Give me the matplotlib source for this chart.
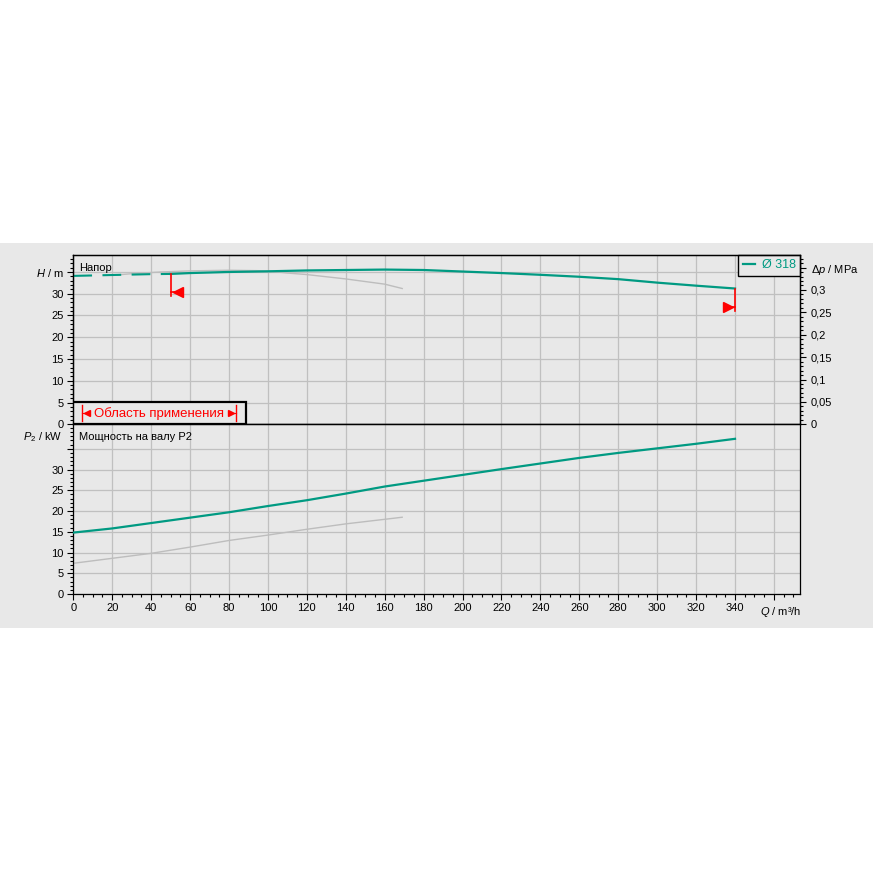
import matplotlib
matplotlib.use("Agg")
import matplotlib.pyplot as plt
from matplotlib.patches import Rectangle
from matplotlib.ticker import MultipleLocator, FixedLocator
import numpy as np

plt.rcParams["font.family"] = ["Liberation Sans", "DejaVu Sans"]
plt.rcParams["mathtext.fontset"] = "custom"
plt.rcParams["mathtext.rm"] = "Liberation Sans"
plt.rcParams["mathtext.it"] = "Liberation Sans:italic"

# head curve, impeller 318 mm
q_head = [0, 20, 40, 50, 60, 80, 100, 120, 140, 160, 180, 200, 220, 240, 260, 280, 300, 320, 340]
h_head = [34.1, 34.3, 34.5, 34.55, 34.75, 35.0, 35.15, 35.35, 35.45, 35.55, 35.45, 35.1,
          34.75, 34.35, 33.9, 33.35, 32.55, 31.85, 31.2]
# grey reference head curve
q_head_ref = [22, 30, 45, 60, 80, 95, 105, 110, 120, 130, 140, 150, 160, 169]
h_head_ref = [34.3, 34.6, 35.0, 35.25, 35.4, 35.3, 35.0, 34.75, 34.4, 33.9, 33.4, 32.8, 32.2, 31.2]

# shaft power P2
q_power = [0, 20, 40, 60, 80, 100, 120, 140, 160, 180, 200, 220, 240, 260, 280, 300, 320, 340]
p_power = [14.8, 15.8, 17.1, 18.4, 19.7, 21.2, 22.6, 24.2, 25.9, 27.3, 28.7, 30.1,
           31.45, 32.8, 34.0, 35.1, 36.2, 37.4]
q_power_ref = [0, 20, 40, 60, 80, 100, 120, 140, 160, 169]
p_power_ref = [7.4, 8.6, 9.8, 11.3, 12.9, 14.2, 15.6, 16.9, 18.0, 18.5]

q_min, q_max = 50, 340
x_ticks = list(range(0, 361, 20))
x_labels = [str(v) for v in range(0, 341, 20)] + [""]
head_ticks = [0, 5, 10, 15, 20, 25, 30, 35]
head_labels = ["0", "5", "10", "15", "20", "25", "30", "$H$ / m"]
power_ticks = [0, 5, 10, 15, 20, 25, 30, 35]
power_labels = ["0", "5", "10", "15", "20", "25", "30", ""]
dp_ticks = [0, 0.05, 0.1, 0.15, 0.2, 0.25, 0.3, 0.35]
dp_labels = ["0", "0,05", "0,1", "0,15", "0,2", "0,25", "0,3", r"$\Delta p$ / MPa"]
mpa_per_m = 0.3 / 30.87

green = "#009a82"
grey_line = "#bdbdbd"
bg = "#e8e8e8"
grid_c = "#c0c0c0"

fig = plt.figure(figsize=(8.73, 8.73), dpi=100)
fig.patches.append(Rectangle((0, 0.2806), 1, 0.441, transform=fig.transFigure,
                             facecolor=bg, edgecolor="none", zorder=-10))

ax1 = fig.add_axes([0.08396, 0.51398, 0.83242, 0.19393])
ax2 = fig.add_axes([0.08396, 0.31959, 0.83242, 0.19439])

for ax in (ax1, ax2):
    ax.set_facecolor(bg)
    ax.set_xlim(0, 373.4)
    ax.xaxis.set_major_locator(FixedLocator(x_ticks))
    ax.xaxis.set_minor_locator(MultipleLocator(5))
    ax.grid(True, which="major", color=grid_c, linewidth=0.9)
    ax.set_axisbelow(True)
    for s in ax.spines.values():
        s.set_color("black")
        s.set_linewidth(0.9)
    ax.tick_params(which="major", direction="out", length=4.3, width=0.8,
                   labelsize=8, pad=2.5, colors="black")
    ax.tick_params(which="minor", direction="out", length=2.2, width=0.8)
    ax.yaxis.set_minor_locator(MultipleLocator(1))

# head panel
ax1.set_ylim(0, 38.9)
ax1.set_yticks(head_ticks)
ax1.set_yticklabels(head_labels)
ax1.tick_params(axis="x", which="both", bottom=False, labelbottom=False)

mask = np.array(q_head) <= q_min
q_arr = np.array(q_head)
h_arr = np.array(h_head)
ax1.plot(q_head_ref, h_head_ref, color=grey_line, lw=1.0, zorder=2)
ax1.plot(q_arr[mask], h_arr[mask], color=green, lw=1.5, ls=(0, (9, 5)), zorder=3)
ax1.plot(q_arr[~mask | (q_arr == q_min)], h_arr[~mask | (q_arr == q_min)],
         color=green, lw=1.6, zorder=3, label="\u00d8 318")

# operating range markers
h_lo = np.interp(q_min, q_head, h_head)
h_hi = np.interp(q_max, q_head, h_head)
ax1.plot([q_min, q_min], [h_lo, h_lo - 5.0], color="red", lw=1.2, zorder=4)
ax1.plot([q_min, q_min + 3.5], [h_lo - 4.2, h_lo - 4.2], color="red", lw=1.2, zorder=4)
ax1.plot(q_min + 3.6, h_lo - 4.2, marker="<", ms=7, color="red", mec="red", zorder=4)
ax1.plot([q_max, q_max], [h_hi, h_hi - 5.1], color="red", lw=1.2, zorder=4)
ax1.plot([q_max - 3.5, q_max], [h_hi - 4.2, h_hi - 4.2], color="red", lw=1.2, zorder=4)
ax1.plot(q_max - 3.8, h_hi - 4.2, marker=">", ms=7, color="red", mec="red", zorder=4)

ax1.text(0.0078, 0.923, "Напор", transform=ax1.transAxes, fontsize=8,
         ha="left", va="center")

leg = ax1.legend(loc="upper right", borderaxespad=0, fontsize=9, handlelength=1.0,
                 handletextpad=0.5, borderpad=0.35, fancybox=False,
                 edgecolor="black", facecolor=bg, framealpha=1)
leg.get_frame().set_linewidth(1.0)
for t in leg.get_texts():
    t.set_color(green)
leg.set_zorder(6)

# application range box
ax1.add_patch(Rectangle((0, 0), 0.2377, 0.13, transform=ax1.transAxes,
                        facecolor=bg, edgecolor="black", lw=1.6, zorder=5))
ax1.text(0.118, 0.065, "Область применения", transform=ax1.transAxes,
         fontsize=9.5, color="red", ha="center", va="center", zorder=6)
ax1.plot([0.0124, 0.0124], [0.02, 0.114], transform=ax1.transAxes, color="red", lw=1.0, zorder=6)
ax1.plot([0.0124, 0.02], [0.065, 0.065], transform=ax1.transAxes, color="red", lw=0.8, zorder=6)
ax1.plot(0.0195, 0.065, transform=ax1.transAxes, marker="<", ms=4, color="red", zorder=6)
ax1.plot([0.2235, 0.2235], [0.02, 0.114], transform=ax1.transAxes, color="red", lw=1.0, zorder=6)
ax1.plot([0.216, 0.2235], [0.065, 0.065], transform=ax1.transAxes, color="red", lw=0.8, zorder=6)
ax1.plot(0.2165, 0.065, transform=ax1.transAxes, marker=">", ms=4, color="red", zorder=6)

# pressure axis
ax1r = ax1.twinx()
ax1r.set_ylim(0, 38.9 * mpa_per_m)
ax1r.set_yticks(dp_ticks)
ax1r.set_yticklabels(dp_labels)
ax1r.yaxis.set_minor_locator(MultipleLocator(0.01))
ax1r.tick_params(which="major", direction="out", length=4.3, width=0.8,
                 labelsize=8, pad=3.5, colors="black")
ax1r.tick_params(which="minor", direction="out", length=2.2, width=0.8)
for s in ax1r.spines.values():
    s.set_linewidth(0.9)

# power panel
ax2.set_ylim(0, 40.9)
ax2.set_yticks(power_ticks)
ax2.set_yticklabels(power_labels)
ax2.set_xticks(x_ticks)
ax2.set_xticklabels(x_labels)
ax2.plot(q_power_ref, p_power_ref, color=grey_line, lw=1.0, zorder=2)
ax2.plot(q_power, p_power, color=green, lw=1.6, zorder=3)
ax2.text(0.0078, 0.923, "Мощность на валу P2", transform=ax2.transAxes, fontsize=8,
         ha="left", va="center")

fig.text(62.5 / 873, 1 - 437.3 / 873, "$P_2$ / kW", fontsize=8, ha="right", va="center")
fig.text(781 / 873, 1 - 612 / 873, "$Q$ / m³/h", fontsize=8, ha="center", va="center")

fig.savefig("out.png", dpi=100, facecolor="white")
